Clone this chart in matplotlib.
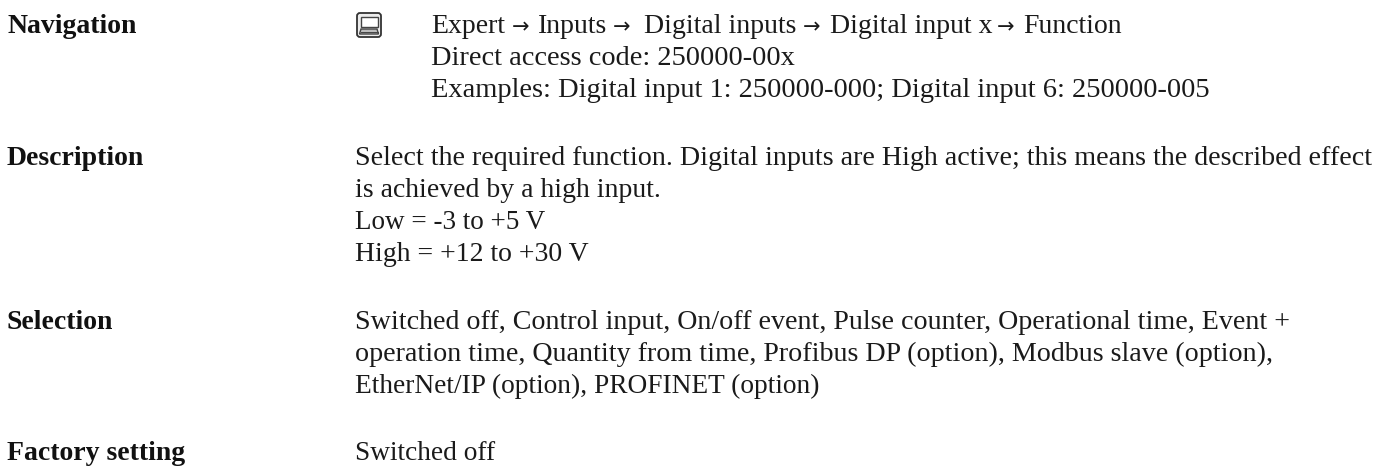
import matplotlib
matplotlib.use("Agg")
import matplotlib.pyplot as plt
from matplotlib.patches import FancyBboxPatch, Rectangle, Polygon

W, H = 1392, 466

labels = ["Navigation", "Description", "Selection", "Factory setting"]
label_y = [33, 165, 329, 460]

# path pieces, the arrows go in between
nav_path = ["Expert", "Inputs", "Digital inputs", "Digital input x", "Function"]
nav_path_x = [431, 538, 644, 829.5, 1023]
arrow_x = [512, 613, 803, 997]

nav_lines = [
    "Direct access code: 250000-00x",
    "Examples: Digital input 1: 250000-000; Digital input 6: 250000-005",
]
nav_y = [33, 65, 97]

desc_lines = [
    "Select the required function. Digital inputs are High active; this means the described effect",
    "is achieved by a high input.",
    "Low = -3 to +5 V",
    "High = +12 to +30 V",
]
desc_y = [165, 197, 229, 261]

sel_lines = [
    "Switched off, Control input, On/off event, Pulse counter, Operational time, Event +",
    "operation time, Quantity from time, Profibus DP (option), Modbus slave (option),",
    "EtherNet/IP (option), PROFINET (option)",
]
sel_y = [329, 361, 393]

factory_lines = ["Switched off"]
factory_y = [460]

# sizes tuned per line so the line ends land where they do in the original
nav_sizes = [20.4, 20.5]
desc_sizes = [20.15, 20, 19.5, 20]
sel_sizes = [20.15, 20.15, 19.75]
factory_sizes = [19.7]

FONT = ["Liberation Serif", "DejaVu Serif"]
DARK = "#1a1a1a"

fig = plt.figure(figsize=(W / 100, H / 100), dpi=100)
ax = fig.add_axes([0, 0, 1, 1])
ax.set_xlim(0, W)
ax.set_ylim(H, 0)
ax.axis("off")

for txt, y in zip(labels, label_y):
    ax.text(7, y, txt, fontsize=20, fontweight="bold", family=FONT, va="baseline", color="#111111")

# first navigation line
for txt, x in zip(nav_path, nav_path_x):
    ax.text(x, nav_y[0], txt, fontsize=20, family=FONT, va="baseline", color=DARK)
for x in arrow_x:
    ax.text(x, nav_y[0], "\u2192", fontsize=15, family="DejaVu Sans", va="baseline", color=DARK)

for lines, ys, sizes, x in [(nav_lines, nav_y[1:], nav_sizes, 431),
                            (desc_lines, desc_y, desc_sizes, 355),
                            (sel_lines, sel_y, sel_sizes, 355),
                            (factory_lines, factory_y, factory_sizes, 355)]:
    for txt, y, s in zip(lines, ys, sizes):
        ax.text(x, y, txt, fontsize=s, family=FONT, va="baseline", color=DARK)

# icon
ax.add_patch(FancyBboxPatch((357, 13), 24, 24, boxstyle="round,pad=0,rounding_size=3",
                            fc="#ececec", ec="#333333", lw=1.3))
ax.add_patch(Rectangle((360.5, 17), 17, 10, fc="white", ec="#444444", lw=1.0))
ax.add_patch(Polygon([(361, 29), (377, 29), (378.5, 34), (359.5, 34)], closed=True,
                     fc="#bdbdbd", ec="#444444", lw=1.0))
ax.plot([360.5, 377.5], [31.5, 31.5], color="#444444", lw=0.7)

fig.savefig("out.png", dpi=100)
